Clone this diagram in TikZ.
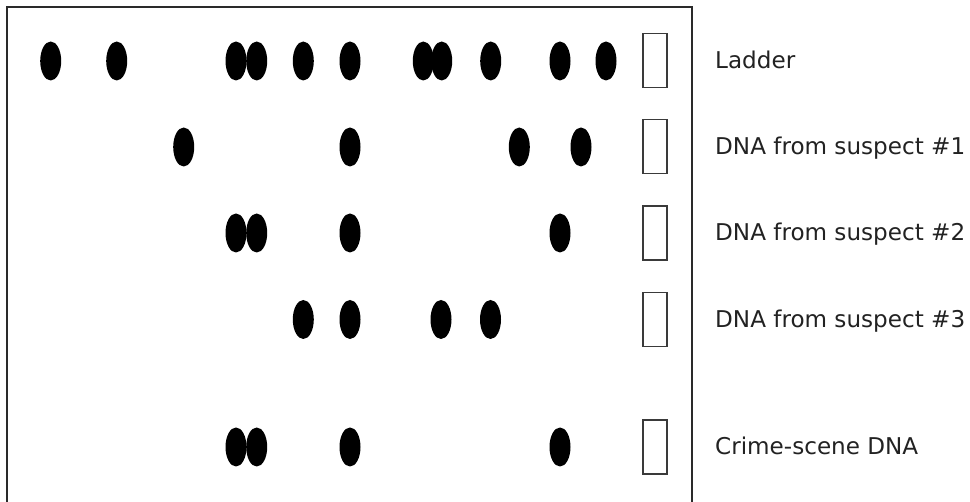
\documentclass[tikz,border=0pt]{standalone}
\usepackage{fontspec}
\newfontfamily\labelfont{DejaVu Sans}
\usetikzlibrary{shapes.geometric}
\definecolor{framegray}{HTML}{2A2A2A}
\definecolor{boxgray}{HTML}{3A3A3A}
\definecolor{textgray}{HTML}{222222}
\tikzset{
  band/.style={ellipse, fill=black, draw=none, inner sep=0pt, minimum width=21pt, minimum height=39pt},
  well/.style={rectangle, draw=boxgray, line width=1.5pt, fill=white, inner sep=0pt, minimum width=24pt, minimum height=54pt},
  lanelabel/.style={anchor=base west, inner sep=0pt, text=textgray, font=\labelfont\fontsize{23.1pt}{26pt}\selectfont},
  framestyle/.style={draw=framegray, line width=1.1pt}
}
\begin{document}
\begin{tikzpicture}[x=1pt,y=-1pt]
\useasboundingbox (0,0) rectangle (970,502);
% frame
\coordinate (fbl) at (7,503);
\coordinate (ftl) at (7,7);
\coordinate (ftr) at (692,7);
\coordinate (fbr) at (692,503);
\draw[framestyle] (fbl) -- (ftl) -- (ftr) -- (fbr);
% Ladder row
\foreach \x [count=\i] in {50.7,116.7,236,256.7,303.3,350,423.3,441.7,490.7,560,606}
  \node[band] (L\i) at (\x,61) {};
% Suspect 1
\foreach \x [count=\i] in {183.7,350,519.3,581}
  \node[band] (A\i) at (\x,147) {};
% Suspect 2
\foreach \x [count=\i] in {236,256.7,350,560}
  \node[band] (B\i) at (\x,233) {};
% Suspect 3
\foreach \x [count=\i] in {303.3,350,441,490.5}
  \node[band] (C\i) at (\x,319.5) {};
% Crime scene
\foreach \x [count=\i] in {236,256.7,350,560}
  \node[band] (D\i) at (\x,447) {};
% wells
\node[well] (w1) at (655,60.5) {};
\node[well] (w2) at (655,146.7) {};
\node[well] (w3) at (655,233) {};
\node[well] (w4) at (655,319.5) {};
\node[well] (w5) at (655,447) {};
% labels
\node[lanelabel] (t1) at (715,68.5) {Ladder};
\node[lanelabel] (t2) at (715,155) {DNA from suspect \#1};
\node[lanelabel] (t3) at (715,241) {DNA from suspect \#2};
\node[lanelabel] (t4) at (715,327.5) {DNA from suspect \#3};
\node[lanelabel] (t5) at (715,455) {Crime-scene DNA};
\end{tikzpicture}
\end{document}
